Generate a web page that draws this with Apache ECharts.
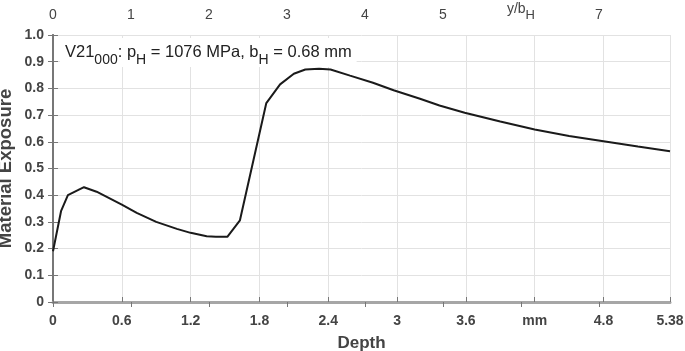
<!DOCTYPE html>
<html>
<head>
<meta charset="utf-8">
<script src="https://cdn.jsdelivr.net/npm/echarts@6/dist/echarts.min.js"></script>
<style>
  html, body { margin: 0; padding: 0; background: #fff; }
  #chart { width: 685px; height: 351px; }
</style>
</head>
<body>
<div id="chart"></div>
<script>
// depth in mm
var depth = [0, 0.07, 0.13, 0.27, 0.38, 0.6, 0.73, 0.9, 1.08, 1.2, 1.34, 1.42, 1.52, 1.63,
  1.86, 1.98, 2.1, 2.2, 2.32, 2.42, 2.59, 2.79, 2.97, 3.2, 3.37, 3.59, 3.9, 4.2, 4.5, 4.8, 5.1, 5.38]
var exposure = [0.19, 0.34, 0.40, 0.43, 0.413, 0.365, 0.334, 0.30, 0.274, 0.259, 0.246, 0.244, 0.244, 0.306,
  0.745, 0.815, 0.855, 0.871, 0.874, 0.871, 0.848, 0.821, 0.793, 0.761, 0.736, 0.709, 0.676, 0.646, 0.622, 0.602, 0.582, 0.565]

var depthMax = 5.38
var bH = 0.68
var yTicks = ['0', '0.1', '0.2', '0.3', '0.4', '0.5', '0.6', '0.7', '0.8', '0.9', '1.0']
var annotation = ['V21', '000', ': p', 'H', ' = 1076 MPa, b', 'H', ' = 0.68 mm']

var font = "'Liberation Sans', Arial, sans-serif"
var labelColor = '#444'

var chart = echarts.init(document.getElementById('chart'))

var points = depth.map(function (d, i) {
  return [d, exposure[i]]
})

var option = {
  animation: false,
  grid: {
    left: 53,
    right: 15,
    top: 35,
    bottom: 49,
    containLabel: false,
    outerBoundsMode: 'none'
  },
  xAxis: [
    {
      type: 'value',
      position: 'bottom',
      min: 0,
      max: depthMax,
      interval: 0.6,
      name: 'Depth',
      nameLocation: 'middle',
      nameGap: 33,
      nameTextStyle: { fontFamily: font, fontWeight: 'bold', fontSize: 17, color: labelColor },
      axisLine: { lineStyle: { color: '#777', width: 2 } },
      axisTick: { inside: true, length: 5, lineStyle: { color: '#777' } },
      axisLabel: {
        fontFamily: font,
        fontWeight: 'bold',
        fontSize: 14,
        color: labelColor,
        margin: 12,
        showMaxLabel: true,
        formatter: function (v) {
          if (Math.abs(v - 4.2) < 1e-6) return 'mm'
          if (Math.abs(v - depthMax) < 1e-6) return '5.38'
          return String(Math.round(v * 10) / 10)
        }
      },
      splitLine: { show: true, lineStyle: { color: '#e2e2e2', width: 1 } }
    },
    {
      type: 'value',
      position: 'top',
      min: 0,
      max: depthMax / bH,
      interval: 1,
      axisLine: { lineStyle: { color: '#a6a6a6', width: 3 } },
      axisTick: { inside: true, length: 5, lineStyle: { color: '#777' } },
      axisLabel: {
        fontFamily: font,
        fontSize: 14,
        color: labelColor,
        margin: 13,
        showMaxLabel: false,
        formatter: function (v) {
          if (v === 6) return '{b|y/b}{s|H}'
          return String(v)
        },
        rich: {
          b: { fontFamily: font, fontSize: 14, color: labelColor, padding: [0, 0, 6, 0] },
          s: { fontFamily: font, fontSize: 13, color: labelColor, padding: [6, 0, 0, 0] }
        }
      },
      splitLine: { show: false }
    }
  ],
  yAxis: [
    {
      type: 'value',
      min: 0,
      max: 1,
      interval: 0.1,
      name: 'Material Exposure',
      nameLocation: 'middle',
      nameMoveOverlap: false,
      nameGap: 38,
      nameTextStyle: { fontFamily: font, fontWeight: 'bold', fontSize: 18.5, color: labelColor },
      axisLine: { show: true, lineStyle: { color: '#888', width: 2 } },
      axisTick: { show: true, inside: true, length: 5, lineStyle: { color: '#777' } },
      axisLabel: {
        fontFamily: font,
        fontWeight: 'bold',
        fontSize: 14,
        color: labelColor,
        margin: 9,
        formatter: function (v) {
          return yTicks[Math.round(v * 10)]
        }
      },
      splitLine: { show: true, lineStyle: { color: '#e2e2e2', width: 1 } }
    },
    {
      type: 'value',
      position: 'right',
      min: 0,
      max: 1,
      interval: 0.1,
      axisLine: { show: true, lineStyle: { color: '#777', width: 2 } },
      axisTick: { show: true, inside: true, length: 5, lineStyle: { color: '#777' } },
      axisLabel: { show: false },
      splitLine: { show: false }
    }
  ],
  graphic: [
    {
      // white box behind the annotation hides the grid lines
      type: 'text',
      left: 60,
      top: 38,
      z: 3,
      style: {
        text: '{n|' + annotation[0] + '}{s|' + annotation[1] + '}{n|' + annotation[2] + '}{s|' + annotation[3] +
          '}{n|' + annotation[4] + '}{s|' + annotation[5] + '}{n|' + annotation[6] + '}',
        backgroundColor: '#fff',
        padding: [5, 5, 0, 5],
        rich: {
          n: { fontFamily: font, fontSize: 16.5, fill: '#222', padding: [0, 0, 5, 0] },
          s: { fontFamily: font, fontSize: 14, fill: '#222', padding: [10, 0, 0, 0] }
        }
      }
    }
  ],
  series: [
    {
      type: 'line',
      xAxisIndex: 0,
      yAxisIndex: 0,
      data: points,
      showSymbol: false,
      lineStyle: { color: '#1a1a1a', width: 2 },
      z: 5
    }
  ]
}

chart.setOption(option)
</script>
</body>
</html>
